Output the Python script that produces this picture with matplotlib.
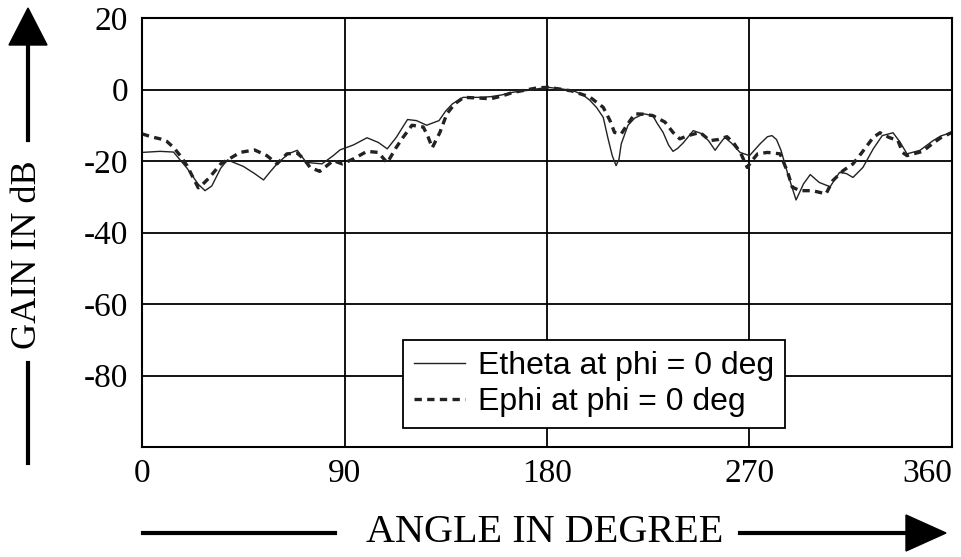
import numpy as np
import matplotlib.pyplot as plt
from matplotlib.lines import Line2D
from matplotlib.patches import Polygon

# angles (deg) and gain (dB)
etheta_ang = [0, 8, 14, 20, 25, 28, 31, 35, 38, 45, 50, 54, 57, 60, 65, 69, 73, 80, 85, 88,
              94, 100, 105, 109, 113, 118, 122, 126.5, 132, 135, 138, 142.7, 150, 155, 160, 165,
              172, 177, 180.5, 186, 191.5, 196, 199, 202, 205, 207, 209, 210.7, 212, 213, 216,
              219, 223, 227, 229, 231.6, 234, 236, 238, 240.6, 245, 249, 252, 254.7, 257, 259,
              262, 265.8, 270, 274.7, 278, 280, 282, 284, 287, 290.7, 294, 297, 301, 305.8, 310,
              313, 316, 320.4, 325, 329, 333.8, 337, 340, 345.8, 351.6, 355, 360]
etheta_db = [-17.6, -17.3, -17.5, -22, -26.5, -28.3, -27, -22, -19.7, -21.5, -23.5, -25.3, -23,
             -20.8, -18, -17, -20.4, -20.8, -18.5, -16.9, -15.5, -13.5, -14.8, -16.6, -13.4, -8.4,
             -8.7, -10, -8.7, -6, -4, -2.2, -2.2, -2.0, -1.5, -0.75, -0.2, 0.3, 0.6, 0.2, -0.3,
             -1.5, -3, -5, -7.8, -13.4, -18.5, -21.3, -19.5, -15.2, -10, -8, -6.8, -7.3, -9.5,
             -12, -15.5, -17.3, -16.5, -14.9, -11.5, -12.4, -14.5, -17, -15, -13.4, -15, -17.6,
             -18.5, -15.2, -13.2, -12.9, -14, -17, -23.6, -30.9, -26.4, -23.8, -26, -27.2, -23.2,
             -23.5, -24.6, -21.8, -16.6, -12.9, -12.1, -14.8, -18, -17, -14.3, -13, -12]

ephi_ang = [0, 4, 8, 11, 14, 17, 20, 23, 25, 27, 30, 35, 38, 43.6, 50, 55.5, 60, 64.4, 69, 72,
            74.7, 79, 85, 89, 94, 100, 105, 109, 113, 116, 120, 125, 127, 129, 132.4, 135.5, 139,
            143, 150, 155, 160, 165, 171, 176, 180.5, 186, 191, 199, 205, 208, 210, 213, 215.5,
            219, 223, 227, 232.4, 236, 239, 242.7, 248, 252.4, 256, 260, 263, 266, 269, 271,
            273.6, 278, 283.6, 287, 289, 292.4, 298, 304, 307, 311.6, 316, 320, 325, 328, 332,
            336, 338, 340, 347, 351.6, 355, 360]
ephi_db = [-12.4, -13.2, -13.8, -14.5, -16.2, -18.5, -21.3, -25, -27.5, -26.5, -24.6, -20.8,
           -19.7, -17.6, -16.9, -18.5, -20.8, -18, -17.8, -19.5, -21.8, -22.9, -19.9, -20.8,
           -19.4, -17.3, -17.6, -20.5, -16.2, -13.4, -10, -10.5, -13, -16.3, -12, -6.8, -4, -2.2,
           -2.4, -2.6, -1.8, -0.8, -0.1, 0.5, 0.6, 0.1, -0.4, -2.1, -5, -8.7, -12, -12.4, -10,
           -6.8, -6.9, -7.3, -9.1, -12, -13.8, -12.9, -12, -14.3, -14, -13.2, -15, -17.7, -21.8,
           -20, -18, -17.6, -18, -23.2, -27.3, -28.3, -28.3, -29.2, -25.5, -22.7, -20.8, -17.6,
           -13.4, -12.1, -13.4, -14.3, -17.6, -18.5, -17.3, -15, -13.5, -12]

xticks = [0, 90, 180, 270, 360]
yticks = [20, 0, -20, -40, -60, -80]

W, H = 962, 557
fig = plt.figure(figsize=(W / 100, H / 100), dpi=100)
ax = fig.add_axes([142 / W, 1 - 447 / H, 810 / W, 429 / H])

ax.plot(etheta_ang, etheta_db, color='#222222', lw=1.0, label='Etheta at phi = 0 deg')
ax.plot(ephi_ang, ephi_db, color='#222222', lw=2.4, linestyle=(0, (2.2, 1.6)),
        label='Ephi at phi = 0 deg')

ax.set_xlim(0, 360)
ax.set_ylim(-100, 20)
ax.set_xticks(xticks)
ax.set_yticks(yticks)
serif = 'Liberation Serif'
xlabs = ax.set_xticklabels([str(t) for t in xticks], family=serif, fontsize=24)
xlabs[-1].set_horizontalalignment('right')  # keep "360" inside the figure
ax.set_yticklabels([str(t) for t in yticks], family=serif, fontsize=24)
ax.tick_params(axis='both', length=0)
ax.tick_params(axis='y', pad=10)
ax.tick_params(axis='x', pad=8)
ax.grid(True, color='black', lw=1.3)
for s in ax.spines.values():
    s.set_linewidth(1.5)

leg = ax.legend(loc='lower left', bbox_to_anchor=(0.322, 0.044), borderaxespad=0,
                prop={'family': 'Liberation Sans', 'size': 23}, frameon=True, fancybox=False,
                edgecolor='black', framealpha=1, handlelength=1.6, handletextpad=0.4,
                borderpad=0.35, labelspacing=0.18)
leg.get_frame().set_linewidth(1.3)


# helper: image pixel (x from left, y from top) -> figure fraction
def fp(x, y):
    return x / W, 1 - y / H


def line(p0, p1):
    (x0, y0), (x1, y1) = fp(*p0), fp(*p1)
    fig.add_artist(Line2D([x0, x1], [y0, y1], color='black', lw=3, transform=fig.transFigure))


def head(pts):
    fig.add_artist(Polygon([fp(*p) for p in pts], closed=True, color='black',
                           transform=fig.transFigure))


# y axis arrow and label
line((28, 463), (28, 363))
line((28, 140), (28, 40))
head([(9, 45), (47, 45), (28, 8)])
fig.text(*fp(28, 255), 'GAIN IN dB', family=serif, fontsize=26, rotation=90,
         ha='center', va='center')

# x axis arrow and label
line((143, 533), (335, 533))
line((740, 533), (910, 533))
head([(906, 515), (906, 551), (946, 533)])
fig.text(*fp(545, 533), 'ANGLE IN DEGREE', family=serif, fontsize=29,
         ha='center', va='center')

fig.savefig('out.png', dpi=100)
